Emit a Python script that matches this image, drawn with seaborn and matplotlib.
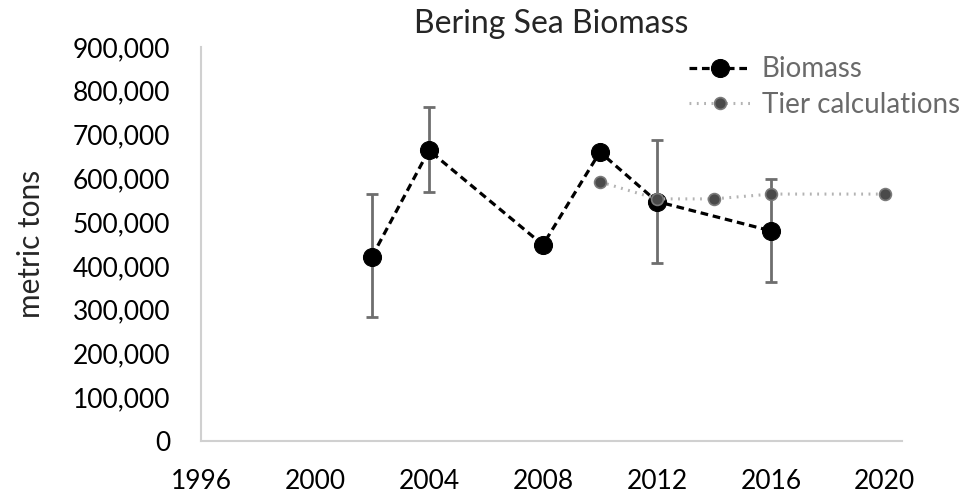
import numpy as np
import pandas as pd
import matplotlib
matplotlib.use("Agg")
import matplotlib.pyplot as plt
import matplotlib.ticker as mticker
import seaborn as sns

# values
years = [2002, 2004, 2008, 2010, 2012, 2016]
biomass = [421000, 664000, 448000, 660000, 547000, 480000]
err_low = [283000, 568000, np.nan, np.nan, 406000, 363000]
err_high = [564000, 762000, np.nan, np.nan, 687000, 598000]

tier_years = [2010, 2012, 2014, 2016, 2020]
tier_vals = [592000, 553000, 553000, 564000, 564000]

x_ticks = [1996, 2000, 2004, 2008, 2012, 2016, 2020]

df = pd.DataFrame({"year": years, "biomass": biomass, "lo": err_low, "hi": err_high})
tier = pd.DataFrame({"year": tier_years, "value": tier_vals})

sns.set_style("white")
plt.rcParams["font.family"] = ["Lato", "DejaVu Sans"]

fig = plt.figure(figsize=(9.77, 4.92), dpi=100)
ax = fig.add_axes([0.2057, 0.1037, 0.7175, 0.8008])

# error bars (only where they exist)
eb = df.dropna()
ax.errorbar(eb["year"], eb["biomass"],
            yerr=[eb["biomass"] - eb["lo"], eb["hi"] - eb["biomass"]],
            fmt="none", ecolor="#6e6e6e", elinewidth=2, capsize=4, capthick=2, zorder=2)

sns.lineplot(data=df, x="year", y="biomass", ax=ax, color="black", lw=2.3,
             linestyle=(0, (2.4, 1.5)), marker="o", markersize=13,
             markeredgecolor="black", label="Biomass", zorder=3)
sns.lineplot(data=tier, x="year", y="value", ax=ax, color="#b3b3b3", lw=2.2,
             linestyle=(0, (0.6, 1.8)), marker="o", markersize=8.5,
             markerfacecolor="#4a4a4a", markeredgecolor="#7a7a7a", markeredgewidth=1.2,
             label="Tier calculations", zorder=4)

ax.set_xlim(1996, 2020.6)
ax.set_ylim(0, 900000)
ax.set_xticks(x_ticks)
ax.yaxis.set_major_locator(mticker.MultipleLocator(100000))
ax.yaxis.set_major_formatter(mticker.FuncFormatter(lambda v, p: f"{int(v):,}"))
ax.tick_params(axis="both", labelsize=19, length=0, colors="black")
ax.tick_params(axis="x", pad=20)
ax.tick_params(axis="y", pad=22)

for s in ["top", "right"]:
    ax.spines[s].set_visible(False)
for s in ["left", "bottom"]:
    ax.spines[s].set_color("#d0d0d0")
    ax.spines[s].set_linewidth(1.5)

ax.set_xlabel("")
ax.set_ylabel("metric tons", fontsize=21.5, labelpad=20)
ax.set_title("Bering Sea Biomass", fontsize=23, pad=10)

leg = ax.legend(loc="upper right", bbox_to_anchor=(1.118, 1.04), frameon=False,
                fontsize=20, handlelength=2.2, handletextpad=0.4, labelspacing=0.35,
                numpoints=1)
for t in leg.get_texts():
    t.set_color("#6a6a6a")

fig.savefig("out.png", dpi=100)
